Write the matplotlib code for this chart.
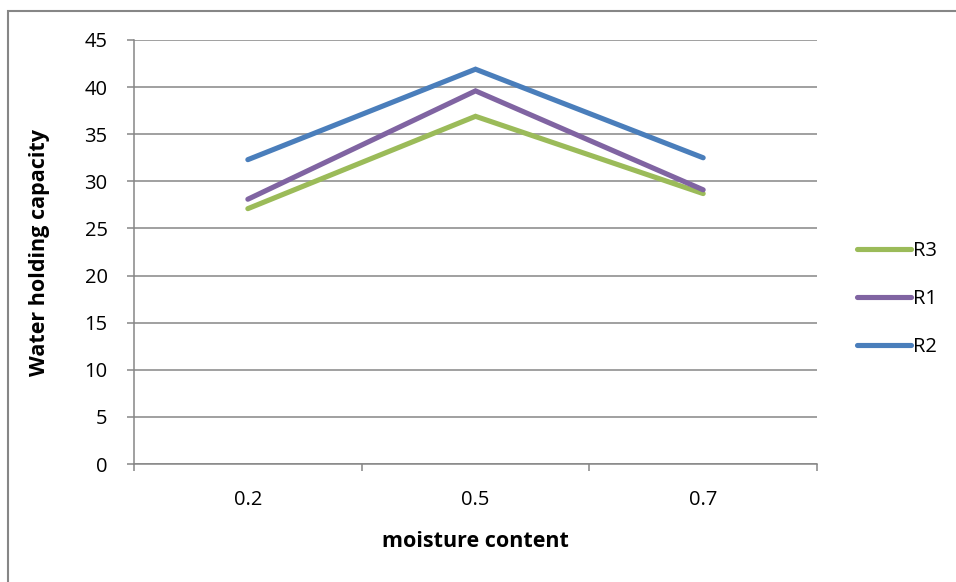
import matplotlib
matplotlib.use("Agg")
import matplotlib.pyplot as plt
from matplotlib.patches import Rectangle

plt.rcParams['font.family'] = ['Open Sans', 'DejaVu Sans']

categories = ["0.2", "0.5", "0.7"]
r3 = [27.1, 36.9, 28.7]
r1 = [28.1, 39.6, 29.1]
r2 = [32.3, 41.9, 32.5]

series = [("R3", r3, "#9BBB59"), ("R1", r1, "#8064A2"), ("R2", r2, "#4A7EBB")]

fig = plt.figure(figsize=(9.56, 5.82), dpi=100)
ax = fig.add_axes([0.1402, 0.2027, 0.7144, 0.7286])

grey = "#868686"
x = range(len(categories))
for name, vals, col in series:
    ax.plot(x, vals, color=col, lw=3.7, solid_capstyle="round",
            solid_joinstyle="miter", label=name, zorder=3)

ax.set_ylim(0, 45)
ax.set_xlim(-0.5, len(categories) - 0.5)
ax.set_yticks(range(0, 46, 5))
ax.yaxis.grid(True, color=grey, lw=1.1)
ax.set_axisbelow(True)

# category boundaries as major ticks, labels at centres
ax.set_xticks([i - 0.5 for i in range(len(categories) + 1)])
ax.set_xticklabels([])
ax.set_xticks(list(x), minor=True)
ax.set_xticklabels(categories, minor=True)
ax.tick_params(axis="x", which="minor", length=0, pad=19, labelsize=14.5)
ax.tick_params(axis="x", which="major", length=5, color=grey, width=1.1)
ax.tick_params(axis="y", length=5, color=grey, width=1.1, labelsize=14.5, pad=14)

for s in ["top", "right"]:
    ax.spines[s].set_visible(False)
for s in ["left", "bottom"]:
    ax.spines[s].set_color(grey)
    ax.spines[s].set_linewidth(1.1)

ax.set_ylabel("Water holding capacity", fontsize=15.5, fontweight="bold", labelpad=25)
ax.set_xlabel("moisture content", fontsize=15.5, fontweight="bold", labelpad=15)

handles, labels = ax.get_legend_handles_labels()
fig.legend(handles, labels, loc="center left", bbox_to_anchor=(0.877, 0.486),
           frameon=False, fontsize=14.5, handlelength=2.7, handletextpad=0.1,
           labelspacing=1.4)

fig.patches.append(Rectangle((8 / 956, -0.1), 1.2, 1 - 11 / 582 + 0.1,
                             transform=fig.transFigure, fill=False,
                             edgecolor=grey, lw=1.5))

fig.savefig("out.png", dpi=100)
